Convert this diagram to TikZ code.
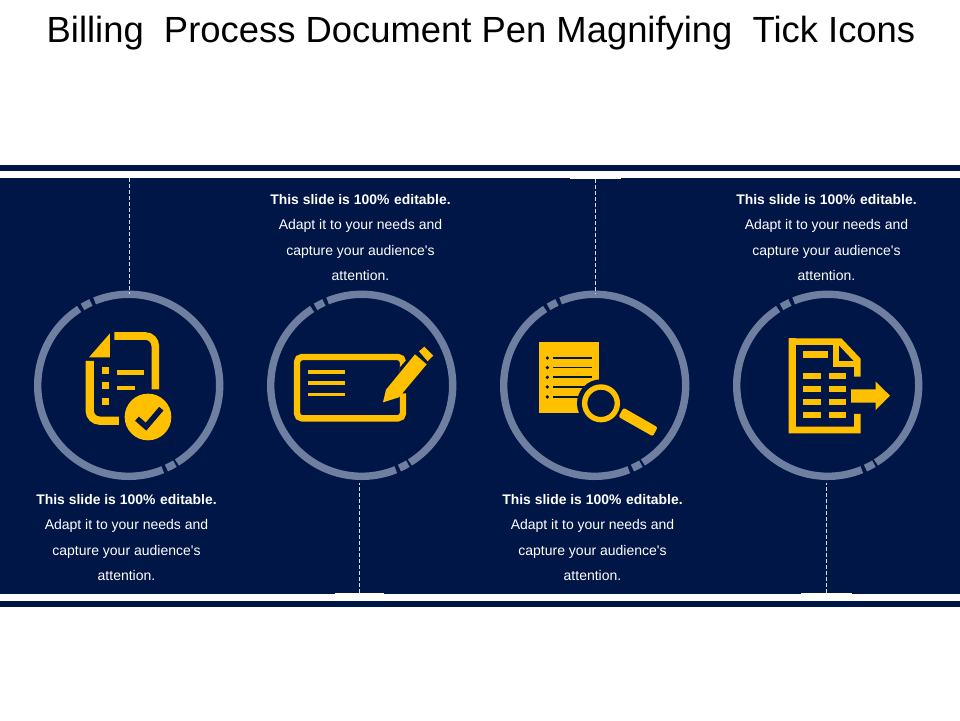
\documentclass[tikz,border=0pt]{standalone}
\usepackage{fontspec}
\setmainfont{Liberation Sans}
\newfontfamily\capfont{Liberation Sans}
\definecolor{navy}{HTML}{001647}
\definecolor{ringc}{HTML}{6E7FA0}
\definecolor{gold}{HTML}{FFC000}
\definecolor{dashc}{HTML}{D5DCEB}
\tikzset{
  ringline/.style={draw=ringc,line width=7.4pt},
  dashline/.style={draw=dashc,line width=1.2pt,dash pattern=on 3.5pt off 2.5pt},
  ringnode/.style={circle,minimum size=182pt,inner sep=0pt},
  tabnode/.style={fill=white,inner sep=0pt,minimum width=50pt,minimum height=3pt},
  caption/.style={text=white,align=center,font=\capfont\fontsize{14}{25.4}\selectfont},
  goldfill/.style={fill=gold,draw=none},
  goldline/.style={draw=gold,line join=miter},
  navyfill/.style={fill=navy,draw=none},
  icon/.style={shift={#1},x=0.3333pt,y=-0.3333pt}
}
\newcommand{\captext}{{\fontsize{13.9}{25.4}\selectfont\textbf{This slide is 100\%\hspace{1pt} editable.}}\\Adapt it to your needs and\\capture your audience's\\attention.}
\begin{document}
\begin{tikzpicture}[x=1pt,y=-1pt]
\useasboundingbox (0,0) rectangle (960,720);
\fill[white] (0,0) rectangle (960,720);
\node[font=\fontsize{36.4}{40}\selectfont,text=black,anchor=base] (title) at (481,42) {Billing\ \ Process Document Pen Magnifying\ \ Tick Icons};
% bands
\fill[navy] (0,165) rectangle (960,171);
\fill[navy] (0,178) rectangle (960,594);
\fill[navy] (0,601) rectangle (960,607);
% tabs
\node[tabnode,minimum width=51pt] (tab3) at (595.5,177.5) {};
\node[tabnode,minimum width=49pt] (tab2) at (359.5,594.5) {};
\node[tabnode,minimum width=51pt] (tab4) at (826.5,594.5) {};
\coordinate (top1) at (129.3,178);
% rings
\foreach \n/\cx in {1/128.7,2/361.7,3/594.7,4/827.7}{
  \node[ringnode] (ring\n) at (\cx,385.3) {};
  \begin{scope}[shift={(\cx,385.3)},yscale=-1]
    \draw[ringline] (112:91) arc[start angle=112,end angle=-58,radius=91];
    \draw[ringline] (114.5:91) arc[start angle=114.5,end angle=120.5,radius=91];
    \draw[ringline] (123:91) arc[start angle=123,end angle=292,radius=91];
    \draw[ringline] (294.5:91) arc[start angle=294.5,end angle=300.5,radius=91];
  \end{scope}
}
% connectors
\draw[dashline] (top1) -- (top1 |- ring1.north);
\draw[dashline,shorten >=6pt] (tab2.north) -- (tab2.north |- ring2.south);
\draw[dashline] (tab3.south) -- (tab3.south |- ring3.north);
\draw[dashline,shorten >=6pt] (tab4.north) -- (tab4.north |- ring4.south);
% captions
\node[caption] (cap1) at (126.5,537.5) {\captext};
\node[caption] (cap2) at (360.5,237.5) {\captext};
\node[caption] (cap3) at (592.5,537.5) {\captext};
\node[caption] (cap4) at (826.5,237.5) {\captext};
% icon 1
\begin{scope}[icon={(20,280)}]
  \draw[goldline,line width=7.6pt,rounded corners=10pt] (283,168) -- (406,168) -- (406,328);
  \fill[goldfill] (270,160) -- (270,232) -- (207,232) -- cycle;
  \draw[goldline,line width=8.2pt,rounded corners=10pt] (209,243) -- (209,422) -- (297,422);
  \fill[goldfill] (246,261) rectangle (268,283);
  \fill[goldfill] (246,306) rectangle (268,328);
  \fill[goldfill] (246,353) rectangle (268,375);
  \fill[goldfill] (291,269) rectangle (372,284);
  \fill[goldfill] (291,317) rectangle (345,331);
  \fill[goldfill] (384,411) circle[radius=70];
  \draw[navy,line width=5.6pt] (351,416) -- (378,440) -- (424,386);
\end{scope}
% icon 2
\begin{scope}[icon={(255,280)}]
  \draw[goldline,line width=6.4pt,rounded corners=5pt] (126,231) rectangle (444,415);
  \fill[goldfill] (158,271) rectangle (270,283);
  \fill[goldfill] (158,304) rectangle (270,316);
  \fill[goldfill] (158,338) rectangle (270,349);
  \fill[navyfill] (435,262) -- (456,238) -- (456,340) -- (435,340) -- cycle;
  \fill[goldfill] (384,367) -- (393,329) -- (480,223) -- (515,253) -- (432,352) -- cycle;
  \fill[goldfill] (492,214) -- (508,200) -- (535,227) -- (518,244) -- cycle;
\end{scope}
% icon 3
\begin{scope}[icon={(490,280)}]
  \fill[goldfill] (147,185) rectangle (327,400);
  \foreach \yy in {234,263,292,321,351}{
    \fill[navy] (172,\yy) circle[radius=5.5];
    \fill[navy] (190,\yy-2.5) rectangle (306,\yy+2.5);
  }
  \fill[navyfill] (333,370) circle[radius=72];
  \draw[gold,line width=5.4pt] (333,370) circle[radius=49];
  \fill[goldfill,rounded corners=2pt] (400.5,383.3) -- (503,442) -- (488.5,469) -- (385.5,410.7) -- cycle;
\end{scope}
% icon 4
\begin{scope}[icon={(725,280)}]
  \draw[goldline,line width=6.6pt] (397,402) -- (397,450) -- (201,450) -- (201,185) -- (345,185) -- (397,240) -- (397,290);
  \fill[goldfill] (191,175) rectangle (213,460);
  \draw[goldline,line width=6.2pt] (334,185) -- (334,252) -- (397,252);
  \fill[goldfill] (235,213) rectangle (308,233);
  \foreach \yy in {280,319,358,396}{
    \fill[goldfill] (235,\yy) rectangle (287,\yy+18);
    \fill[goldfill] (311,\yy) rectangle (363,\yy+18);
  }
  \fill[goldfill] (378,328) -- (452,328) -- (452,305) -- (495,347) -- (452,390) -- (452,368) -- (378,368) -- cycle;
\end{scope}
\end{tikzpicture}
\end{document}
